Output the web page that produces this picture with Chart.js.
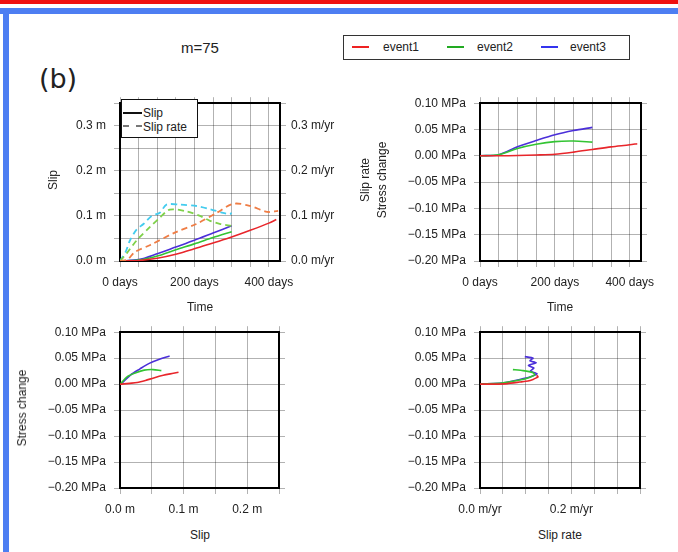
<!DOCTYPE html>
<html>
<head>
<meta charset="utf-8">
<script src="https://cdn.jsdelivr.net/npm/chart.js@4.4.1/dist/chart.umd.min.js"></script>
<style>
body{margin:0;width:678px;height:552px;overflow:hidden;background:#fff;position:relative;font-family:"Liberation Sans",Arial,sans-serif;color:#222}
.bar,canvas,.t,.box,.ln{position:absolute}
.t{font-size:12px;white-space:nowrap;transform:translate(-50%,-50%)}
.l{transform:translate(0,-50%)}
.r{transform:translate(-50%,-50%) rotate(-90deg)}
</style>
</head>
<body>
<div class="bar" style="left:0;top:0;width:678px;height:4px;background:#f01010"></div>
<div class="bar" style="left:0;top:8px;width:678px;height:6px;background:#4d7ef2"></div>
<div class="bar" style="left:3px;top:8px;width:6px;height:544px;background:#4d7ef2"></div>

<div class="t" style="left:58px;top:78px;font-family:'DejaVu Sans';font-size:27px">(b)</div>
<div class="t" style="left:200px;top:47px;font-size:15px">m=75</div>

<div class="box" style="left:343px;top:35px;width:285px;height:23px;border:1.5px solid #333;background:#fff"></div>
<div class="ln" style="left:352px;top:46px;width:17px;height:2px;background:#ee2222"></div>
<div class="t l" style="left:383px;top:47px">event1</div>
<div class="ln" style="left:447px;top:46px;width:17px;height:2px;background:#22aa22"></div>
<div class="t l" style="left:477px;top:47px">event2</div>
<div class="ln" style="left:541px;top:46px;width:17px;height:2px;background:#3333ee"></div>
<div class="t l" style="left:570px;top:47px">event3</div>

<canvas id="c1" style="left:0;top:88px" width="340" height="220"></canvas>
<canvas id="c2" style="left:340px;top:88px" width="338" height="220"></canvas>
<canvas id="c3" style="left:0;top:317px" width="340" height="200"></canvas>
<canvas id="c4" style="left:340px;top:317px" width="338" height="200"></canvas>

<div class="box" style="left:121px;top:99px;width:75px;height:37px;border:1.5px solid #111;background:#fff"></div>
<div class="ln" style="left:123px;top:112px;width:19px;height:2px;background:#111"></div>
<div class="t l" style="left:143px;top:113px">Slip</div>
<div class="ln" style="left:123px;top:125px;width:19px;height:0;border-top:2px dashed #777"></div>
<div class="t l" style="left:143px;top:127px">Slip rate</div>

<div class="t r" style="left:53px;top:180px">Slip</div>
<div class="t" style="left:200px;top:307px">Time</div>
<div class="t r" style="left:365px;top:180px">Slip rate</div>
<div class="t r" style="left:382px;top:180px">Stress change</div>
<div class="t" style="left:560px;top:307px">Time</div>
<div class="t r" style="left:22px;top:408px">Stress change</div>
<div class="t" style="left:200px;top:535px">Slip</div>
<div class="t" style="left:560px;top:535px">Slip rate</div>

<script>
// time samples (days)
const t1=[0,50,100,150,200,250,300,350,400,420];
const t23=[0,50,100,150,200,250,300];
// slip (m)
const slip1=[0,0.001,0.006,0.015,0.027,0.040,0.053,0.068,0.084,0.092];
const slip2=[0,0.002,0.011,0.025,0.038,0.052,0.065];
const slip3=[0,0.003,0.016,0.031,0.046,0.062,0.078];
// stress change (MPa)
const stress1=[0,0,0.0005,0.0015,0.003,0.007,0.012,0.017,0.021,0.023];
const stress2=[0,0.002,0.014,0.022,0.027,0.028,0.026];
const stress3=[0,0.002,0.017,0.029,0.040,0.048,0.054];
// slip rate (m/yr)
const rateT1=[0,20,40,80,150,205,260,305,350,395,425];
const rate1=[0,0.003,0.02,0.035,0.064,0.082,0.107,0.127,0.122,0.109,0.111];
const rateT2=[0,18,45,80,107,134,179,215,242,270,300];
const rate2=[0,0.017,0.046,0.075,0.096,0.114,0.11,0.1,0.089,0.082,0.078];
const rateT3=[0,15,27,45,63,85,107,125,161,206,242,277,295,300];
const rate3=[0,0.02,0.046,0.07,0.082,0.1,0.107,0.125,0.125,0.122,0.115,0.107,0.104,0.107];
// stress change vs slip rate
const pr1=[0,0.03,0.06,0.087,0.105,0.116,0.123,0.127,0.124];
const ps1=[0,0,0.001,0.004,0.006,0.009,0.012,0.014,0.017];
const pr2=[0,0.03,0.051,0.087,0.108,0.12,0.116,0.094,0.072];
const ps2=[0,0.001,0.0025,0.008,0.013,0.018,0.022,0.026,0.028];
const pr3=[0,0.03,0.051,0.087,0.109,0.125,0.11,0.118,0.106,0.123,0.109,0.116,0.098];
const ps3=[0,0.001,0.0025,0.009,0.0137,0.02,0.025,0.031,0.036,0.041,0.045,0.05,0.053];

const RED="#e8262b", GREEN="#33c433", BLUE="#4b2fd9";
const ORANGE="#ef7d45", LGREEN="#7fd14a", CYAN="#44ccee";
const FONT={family:"'Liberation Sans', Arial, sans-serif",size:12};
const GRID="rgba(0,0,0,0.3)";

function pts(xs,ys){return xs.map((x,i)=>({x:x,y:ys[i]}));}
function line(data,color,dash,yAxis){
    return {data:data,borderColor:color,borderWidth:dash?1.8:1.6,borderDash:dash?[6,4]:[],
        pointRadius:0,tension:0.3,fill:false,yAxisID:yAxis||"y"};
}
function days(v){return v%200===0?v+" days":"";}
function metres(v){const r=Math.round(v*100);return r%10===0?(r/100).toFixed(1)+" m":"";}
function mpyr(v){const r=Math.round(v*100);return r%10===0?(r/100).toFixed(1)+" m/yr":"";}
function mpyr2(v){const r=Math.round(v*100);return r%20===0?(r/100).toFixed(1)+" m/yr":"";}
function mpa(v){const r=Math.round(v*100);return (r<0?"\u2212":"")+Math.abs(r/100).toFixed(2)+" MPa";}

function axis(pos,min,max,step,fmt,size){
    const shown=!!fmt;
    return {
        type:"linear",position:pos,min:min,max:max,
        afterFit:function(s){if(s.isHorizontal()) s.height=size; else s.width=size;},
        grid:{color:GRID,lineWidth:1,tickLength:6,drawOnChartArea:pos==="left"||pos==="bottom"},
        border:{display:true,color:"#000",width:2},
        ticks:{display:shown,stepSize:step,includeBounds:false,padding:pos==="right"?5:8,font:FONT,color:"#222",
            autoSkip:false,maxRotation:0,callback:fmt||function(){return "";}}
    };
}

function panel(id,datasets,scales){
    return new Chart(document.getElementById(id),{
        type:"line",
        data:{datasets:datasets},
        options:{
            responsive:false,animation:false,
            layout:{padding:0},
            plugins:{legend:{display:false},tooltip:{enabled:false}},
            scales:scales
        }
    });
}

panel("c1",[
    line(pts(rateT1,rate1),ORANGE,true,"y2"),
    line(pts(rateT2,rate2),LGREEN,true,"y2"),
    line(pts(rateT3,rate3),CYAN,true,"y2"),
    line(pts(t1,slip1),RED),
    line(pts(t23,slip2),GREEN),
    line(pts(t23,slip3),BLUE)
],{
    x:axis("bottom",0,430,50,days,47),
    x2:axis("top",0,430,50,null,10),
    y:axis("left",0,0.35,0.05,metres,120),
    y2:axis("right",0,0.35,0.05,mpyr,60)
});

panel("c2",[
    line(pts(t1,stress1),RED),
    line(pts(t23,stress2),GREEN),
    line(pts(t23,stress3),BLUE)
],{
    x:axis("bottom",0,430,50,days,47),
    x2:axis("top",0,430,50,null,10),
    y:axis("left",-0.2,0.1,0.05,mpa,140),
    y2:axis("right",-0.2,0.1,0.05,null,37)
});

panel("c3",[
    line(pts(slip1,stress1),RED),
    line(pts(slip2,stress2),GREEN),
    line(pts(slip3,stress3),BLUE)
],{
    x:axis("bottom",0,0.25,0.05,metres,29),
    x2:axis("top",0,0.25,0.05,null,10),
    y:axis("left",-0.2,0.1,0.05,mpa,120),
    y2:axis("right",-0.2,0.1,0.05,null,61)
});

const s4={
    x:axis("bottom",0,0.35,0.05,mpyr2,29),
    x2:axis("top",0,0.35,0.05,null,10),
    y:axis("left",-0.2,0.1,0.05,mpa,140),
    y2:axis("right",-0.2,0.1,0.05,null,38)
};
const d4=[line(pts(pr1,ps1),RED),line(pts(pr2,ps2),GREEN),line(pts(pr3,ps3),BLUE)];
d4.forEach(d=>{d.tension=0.15;});
panel("c4",d4,s4);
</script>
</body>
</html>
